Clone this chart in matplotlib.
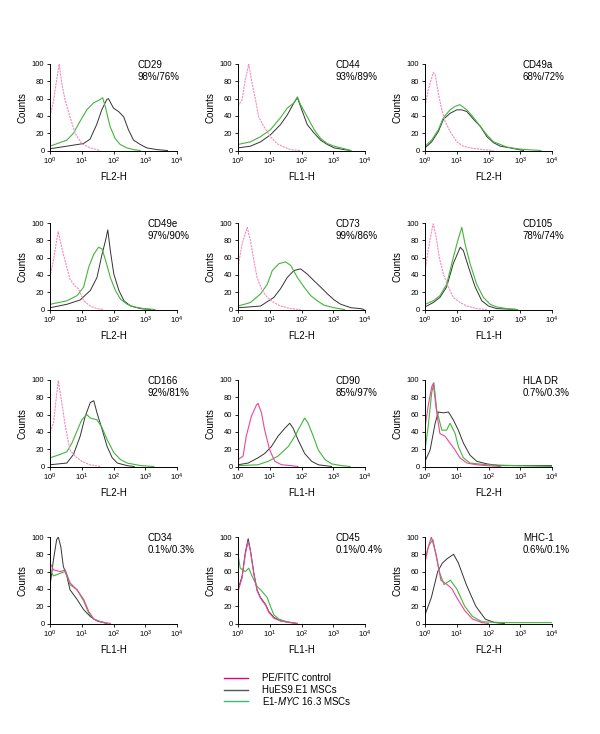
import matplotlib
matplotlib.use("Agg")
import matplotlib.pyplot as plt
from matplotlib.lines import Line2D

# --- fonts ---
plt.rcParams['font.family'] = ['Liberation Sans', 'DejaVu Sans']
plt.rcParams['mathtext.fontset'] = 'custom'
plt.rcParams['mathtext.rm'] = 'Liberation Sans'
plt.rcParams['mathtext.it'] = 'Liberation Sans:italic'

HUES_COLOR = '#333333'
MYC_COLOR = '#44b53c'
CTRL_LIGHT = '#f48cc0'
CTRL_DARK = '#e8479a'

# --- data: (log10 fluorescence, counts) ---
# a repeated x at 0.0 is the first (off-scale) channel, drawn as a vertical edge
CD29_CTRL = [(0.0, 40), (0.1, 55), (0.21, 82), (0.29, 100), (0.37, 78), (0.47, 59), (0.63, 39), (0.79, 20), (1.0, 8), (1.26, 3), (1.58, 0)]
CD29_HUES = [(0.0, 2), (0.53, 5), (1.05, 8), (1.26, 13), (1.47, 30), (1.63, 47), (1.79, 59), (1.84, 60), (2.0, 49), (2.16, 45), (2.32, 39), (2.47, 24), (2.63, 12), (2.84, 7), (3.05, 3), (3.37, 1), (3.7, 0)]
CD29_MYC = [(0.0, 100), (0.0, 5), (0.53, 12), (0.74, 20), (0.95, 34), (1.16, 47), (1.37, 55), (1.58, 59), (1.66, 61), (1.74, 51), (1.89, 28), (2.05, 14), (2.21, 7), (2.42, 3), (2.63, 1), (2.84, 0)]

CD44_CTRL = [(0.0, 51), (0.13, 59), (0.23, 82), (0.34, 100), (0.44, 78), (0.55, 59), (0.65, 39), (0.81, 28), (1.02, 16), (1.23, 8), (1.45, 4), (1.66, 1), (1.97, 0)]
CD44_HUES = [(0.0, 3), (0.39, 5), (0.71, 10), (1.02, 18), (1.34, 30), (1.55, 41), (1.76, 55), (1.87, 61), (1.97, 51), (2.18, 30), (2.4, 20), (2.6, 12), (2.81, 7), (3.03, 3), (3.35, 1), (3.55, 0)]
CD44_MYC = [(0.0, 100), (0.0, 7), (0.39, 10), (0.71, 16), (1.02, 24), (1.34, 38), (1.55, 49), (1.76, 55), (1.87, 62), (1.97, 53), (2.18, 39), (2.4, 24), (2.6, 14), (2.81, 8), (3.03, 5), (3.35, 2), (3.55, 0)]

CD49A_CTRL = [(0.0, 51), (0.1, 70), (0.26, 90), (0.32, 88), (0.42, 66), (0.53, 47), (0.63, 34), (0.79, 22), (1.0, 10), (1.21, 5), (1.42, 3), (1.84, 1), (2.16, 0)]
CD49A_HUES = [(0.0, 3), (0.21, 10), (0.42, 22), (0.58, 36), (0.79, 43), (1.0, 47), (1.16, 47), (1.32, 45), (1.53, 36), (1.74, 28), (1.95, 16), (2.16, 9), (2.37, 5), (2.68, 3), (3.1, 0)]
CD49A_MYC = [(0.0, 100), (0.0, 5), (0.21, 12), (0.42, 24), (0.58, 38), (0.79, 47), (0.95, 51), (1.1, 53), (1.32, 47), (1.53, 38), (1.74, 28), (1.95, 18), (2.16, 10), (2.37, 7), (2.58, 4), (2.9, 2), (3.2, 1), (3.65, 0)]

CD49E_CTRL = [(0.0, 38), (0.11, 57), (0.21, 80), (0.26, 90), (0.32, 80), (0.42, 64), (0.53, 49), (0.63, 35), (0.79, 27), (0.9, 24), (1.06, 10), (1.27, 4), (1.48, 1), (1.69, 0)]
CD49E_HUES = [(0.0, 2), (0.53, 6), (0.95, 11), (1.27, 22), (1.48, 37), (1.64, 64), (1.75, 80), (1.82, 92), (1.9, 68), (2.01, 41), (2.17, 22), (2.33, 10), (2.54, 4), (2.86, 1), (3.17, 0)]
CD49E_MYC = [(0.0, 6), (0.53, 10), (0.85, 16), (1.06, 26), (1.22, 49), (1.38, 64), (1.53, 72), (1.64, 70), (1.75, 57), (1.9, 37), (2.06, 22), (2.22, 12), (2.43, 6), (2.65, 3), (2.96, 1), (3.3, 0)]

CD73_CTRL = [(0.0, 49), (0.13, 76), (0.29, 95), (0.39, 80), (0.5, 57), (0.6, 37), (0.76, 22), (0.92, 14), (1.13, 8), (1.34, 4), (1.66, 1), (1.97, 0)]
CD73_HUES = [(0.0, 2), (0.71, 4), (1.13, 14), (1.34, 24), (1.55, 37), (1.76, 45), (1.97, 47), (2.18, 41), (2.4, 33), (2.6, 26), (2.82, 18), (3.03, 11), (3.24, 6), (3.56, 2), (3.87, 1), (3.97, 0)]
CD73_MYC = [(0.0, 100), (0.0, 4), (0.39, 8), (0.71, 18), (0.92, 29), (1.08, 45), (1.29, 53), (1.5, 55), (1.66, 51), (1.87, 37), (2.08, 26), (2.29, 16), (2.5, 10), (2.71, 5), (3.03, 2), (3.35, 0)]

CD105_CTRL = [(0.0, 45), (0.1, 68), (0.21, 91), (0.26, 99), (0.35, 84), (0.45, 60), (0.58, 41), (0.74, 26), (0.89, 14), (1.11, 8), (1.32, 4), (1.63, 1), (1.95, 0)]
CD105_HUES = [(0.0, 3), (0.26, 8), (0.47, 14), (0.68, 26), (0.89, 53), (1.11, 72), (1.21, 68), (1.37, 49), (1.58, 26), (1.79, 10), (2.0, 4), (2.26, 1), (2.9, 0)]
CD105_MYC = [(0.0, 6), (0.26, 10), (0.47, 16), (0.68, 29), (0.89, 60), (1.05, 82), (1.16, 95), (1.26, 76), (1.42, 53), (1.63, 29), (1.84, 14), (2.05, 6), (2.26, 3), (2.58, 1), (2.9, 0)]

CD166_CTRL = [(0.0, 40), (0.11, 50), (0.19, 77), (0.26, 99), (0.34, 81), (0.42, 62), (0.48, 47), (0.63, 19), (0.79, 12), (1.0, 6), (1.26, 2), (1.58, 0)]
CD166_HUES = [(0.0, 2), (0.53, 4), (0.74, 14), (0.95, 35), (1.11, 58), (1.27, 74), (1.38, 76), (1.48, 62), (1.64, 43), (1.8, 23), (1.96, 10), (2.12, 4), (2.43, 1), (2.65, 0)]
CD166_MYC = [(0.0, 10), (0.32, 14), (0.53, 17), (0.69, 27), (0.85, 41), (1.0, 54), (1.16, 60), (1.27, 56), (1.48, 54), (1.64, 45), (1.8, 31), (2.01, 16), (2.22, 8), (2.43, 4), (2.86, 1), (3.27, 0)]

CD90_CTRL = [(0.0, 100), (0.0, 8), (0.16, 12), (0.26, 35), (0.42, 58), (0.58, 71), (0.63, 73), (0.74, 62), (0.84, 42), (1.0, 19), (1.16, 6), (1.37, 2), (1.68, 1), (1.89, 0)]
CD90_HUES = [(0.0, 2), (0.32, 4), (0.63, 10), (0.84, 15), (1.05, 23), (1.26, 35), (1.47, 44), (1.63, 50), (1.74, 44), (1.89, 31), (2.1, 15), (2.32, 6), (2.53, 2), (2.95, 0)]
CD90_MYC = [(0.0, 1), (0.63, 2), (0.95, 6), (1.26, 12), (1.58, 23), (1.79, 35), (1.95, 46), (2.1, 56), (2.21, 50), (2.37, 35), (2.53, 19), (2.74, 8), (2.95, 3), (3.27, 1), (3.53, 0)]

HLA_CTRL = [(0.0, 45), (0.1, 70), (0.21, 92), (0.26, 96), (0.37, 62), (0.47, 38), (0.63, 35), (0.79, 27), (0.95, 19), (1.1, 10), (1.32, 4), (1.63, 2), (1.95, 1), (2.37, 0)]
HLA_HUES = [(0.0, 6), (0.16, 19), (0.32, 50), (0.42, 63), (0.58, 62), (0.74, 63), (0.89, 54), (1.05, 42), (1.21, 27), (1.42, 13), (1.63, 6), (1.95, 3), (2.37, 1), (4.0, 1)]
HLA_MYC = [(0.0, 100), (0.0, 19), (0.1, 46), (0.21, 85), (0.28, 97), (0.37, 65), (0.53, 42), (0.68, 42), (0.79, 50), (0.95, 38), (1.05, 23), (1.21, 10), (1.42, 4), (1.95, 2), (2.9, 1), (4.0, 0)]

CD34_CTRL = [(0.0, 100), (0.0, 70), (0.11, 62), (0.32, 60), (0.48, 62), (0.63, 47), (0.85, 39), (1.06, 28), (1.22, 14), (1.38, 5), (1.59, 2), (1.9, 0)]
CD34_HUES = [(0.0, 43), (0.11, 74), (0.21, 97), (0.26, 100), (0.34, 89), (0.42, 66), (0.53, 55), (0.63, 39), (0.85, 28), (1.06, 16), (1.27, 8), (1.48, 3), (1.8, 0)]
CD34_MYC = [(0.0, 62), (0.11, 55), (0.32, 58), (0.48, 60), (0.63, 45), (0.85, 39), (1.06, 26), (1.22, 12), (1.38, 5), (1.59, 2), (1.8, 0)]

CD45_CTRL = [(0.0, 37), (0.13, 53), (0.23, 80), (0.32, 95), (0.39, 84), (0.5, 57), (0.6, 38), (0.71, 29), (0.87, 21), (0.97, 13), (1.13, 6), (1.34, 3), (1.66, 1), (1.87, 0)]
CD45_HUES = [(0.0, 39), (0.13, 55), (0.23, 82), (0.32, 98), (0.39, 85), (0.5, 58), (0.6, 39), (0.71, 30), (0.87, 22), (0.97, 14), (1.13, 7), (1.34, 3), (1.66, 1), (1.87, 0)]
CD45_MYC = [(0.0, 100), (0.0, 80), (0.07, 64), (0.23, 60), (0.34, 64), (0.44, 55), (0.6, 43), (0.76, 37), (0.92, 30), (1.02, 20), (1.13, 10), (1.29, 5), (1.55, 2), (1.87, 0)]

MHC1_CTRL = [(0.0, 70), (0.1, 88), (0.2, 100), (0.35, 80), (0.5, 50), (0.7, 45), (0.85, 40), (1.0, 30), (1.25, 15), (1.5, 5), (1.8, 1), (2.0, 0)]
MHC1_HUES = [(0.0, 10), (0.2, 30), (0.4, 60), (0.55, 70), (0.7, 75), (0.9, 80), (1.05, 70), (1.3, 45), (1.6, 20), (1.9, 5), (2.2, 1), (2.5, 0)]
MHC1_MYC = [(0.0, 100), (0.0, 75), (0.12, 90), (0.25, 97), (0.45, 60), (0.6, 45), (0.8, 50), (1.0, 40), (1.25, 20), (1.5, 8), (1.8, 2), (2.5, 1), (4.0, 1)]

MARKERS = ['CD29', 'CD44', 'CD49a', 'CD49e', 'CD73', 'CD105',
           'CD166', 'CD90', 'HLA DR', 'CD34', 'CD45', 'MHC-1']
PERCENTS = ['98%/76%', '93%/89%', '68%/72%', '97%/90%', '99%/86%', '78%/74%',
            '92%/81%', '85%/97%', '0.7%/0.3%', '0.1%/0.3%', '0.1%/0.4%', '0.6%/0.1%']
CHANNELS = ['FL2-H', 'FL1-H', 'FL2-H', 'FL2-H', 'FL2-H', 'FL1-H',
            'FL2-H', 'FL1-H', 'FL2-H', 'FL1-H', 'FL1-H', 'FL2-H']
CTRL_CURVES = [CD29_CTRL, CD44_CTRL, CD49A_CTRL, CD49E_CTRL, CD73_CTRL, CD105_CTRL,
               CD166_CTRL, CD90_CTRL, HLA_CTRL, CD34_CTRL, CD45_CTRL, MHC1_CTRL]
HUES_CURVES = [CD29_HUES, CD44_HUES, CD49A_HUES, CD49E_HUES, CD73_HUES, CD105_HUES,
               CD166_HUES, CD90_HUES, HLA_HUES, CD34_HUES, CD45_HUES, MHC1_HUES]
MYC_CURVES = [CD29_MYC, CD44_MYC, CD49A_MYC, CD49E_MYC, CD73_MYC, CD105_MYC,
              CD166_MYC, CD90_MYC, HLA_MYC, CD34_MYC, CD45_MYC, MHC1_MYC]
DECADES = [0, 1, 2, 3, 4]
COUNT_TICKS = [0, 20, 40, 60, 80, 100]

# control drawn dotted (light) in the first seven panels
CTRL_DOTTED = [True] * 7 + [False] * 5

# --- layout in pixels ---
W, H = 600, 734
COL_LEFT = [50, 238, 425]
ROW_TOP = [64, 223, 380, 537]
AX_W, AX_H = 127, 86.5


def xs(curve):
    return [10 ** p[0] for p in curve]


def ys(curve):
    return [p[1] for p in curve]


fig = plt.figure(figsize=(W / 100, H / 100), dpi=100)

for i, name in enumerate(MARKERS):
    r, c = divmod(i, 3)
    ax = fig.add_axes([COL_LEFT[c] / W, 1 - (ROW_TOP[r] + AX_H) / H, AX_W / W, AX_H / H])
    ax.set_xscale('log')

    ax.plot(xs(HUES_CURVES[i]), ys(HUES_CURVES[i]), color=HUES_COLOR, lw=0.7)
    ax.plot(xs(MYC_CURVES[i]), ys(MYC_CURVES[i]), color=MYC_COLOR, lw=0.8)
    if CTRL_DOTTED[i]:
        ax.plot(xs(CTRL_CURVES[i]), ys(CTRL_CURVES[i]), color=CTRL_LIGHT, lw=0.8,
                linestyle=(0, (2, 0.8)))
    else:
        ax.plot(xs(CTRL_CURVES[i]), ys(CTRL_CURVES[i]), color=CTRL_DARK, lw=0.8)

    ax.set_xlim(1, 1e4)
    ax.set_ylim(0, 100)
    ax.set_xticks([10 ** d for d in DECADES])
    ax.set_xticklabels([r'$10^{%d}$' % d for d in DECADES])
    ax.xaxis.set_minor_locator(matplotlib.ticker.NullLocator())
    ax.set_yticks(COUNT_TICKS)
    ax.tick_params(labelsize=5.5, length=2.5, width=0.6, pad=1.5, direction='out')
    for s in ['top', 'right']:
        ax.spines[s].set_visible(False)
    for s in ['left', 'bottom']:
        ax.spines[s].set_linewidth(0.7)
    ax.set_ylabel('Counts', fontsize=7, labelpad=3)
    ax.set_xlabel(CHANNELS[i], fontsize=7, labelpad=3)

    tx = 0.69 if name == 'CD29' else 0.77
    ax.text(tx, 1.05, name + '\n' + PERCENTS[i], transform=ax.transAxes,
            fontsize=7, va='top', ha='left', linespacing=1.35)

# --- legend ---
LEG_LABELS = ['PE/FITC control', 'HuES9.E1 MSCs', r'E1-$\mathit{MYC}$ 16.3 MSCs']
LEG_COLORS = ['#e4007c', '#555555', '#3cb878']
for k, (lab, col) in enumerate(zip(LEG_LABELS, LEG_COLORS)):
    yy = 1 - (678 + 11.7 * k) / H
    fig.add_artist(Line2D([224 / W, 248 / W], [yy, yy], color=col, lw=1.0))
    fig.text(262 / W, yy, lab, fontsize=7, va='center', ha='left')

fig.savefig('out.png', dpi=100)
